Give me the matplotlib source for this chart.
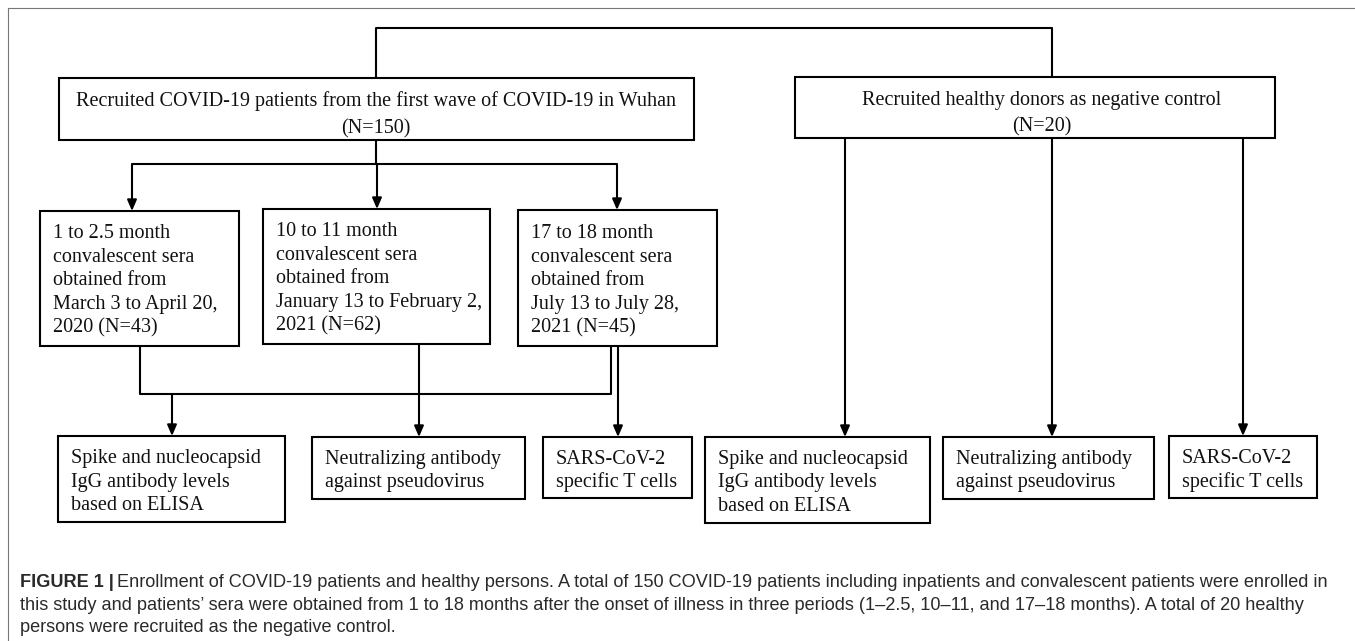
import matplotlib
matplotlib.use('Agg')
import matplotlib.pyplot as plt
from matplotlib.patches import Rectangle

# box texts
main_left_lines = ['Recruited COVID-19 patients from the first wave of COVID-19 in Wuhan', '(N=150)']
main_right_lines = ['Recruited healthy donors as negative control', '(N=20)']
period_lines = [
    ['1 to 2.5 month', 'convalescent sera', 'obtained from', 'March 3 to April 20,', '2020 (N=43)'],
    ['10 to 11 month', 'convalescent sera', 'obtained from', 'January 13 to February 2,', '2021 (N=62)'],
    ['17 to 18 month', 'convalescent sera', 'obtained from', 'July 13 to July 28,', '2021 (N=45)'],
]
assay_lines = [
    ['Spike and nucleocapsid', 'IgG antibody levels', 'based on ELISA'],
    ['Neutralizing antibody', 'against pseudovirus'],
    ['SARS-CoV-2', 'specific T cells'],
]
caption_head = 'FIGURE 1 |'
caption_lines = [
    'Enrollment of COVID-19 patients and healthy persons. A total of 150 COVID-19 patients including inpatients and convalescent patients were enrolled in',
    'this study and patients\u2019 sera were obtained from 1 to 18 months after the onset of illness in three periods (1\u20132.5, 10\u201311, and 17\u201318 months). A total of 20 healthy',
    'persons were recruited as the negative control.',
]

# layout in pixels (x0, y0, x1, y1), y going down
main_left_box = (59, 78, 694, 140)
main_right_box = (795, 77, 1275, 138)
period_boxes = [(40, 211, 239, 346), (263, 209, 490, 344), (518, 210, 717, 346)]
assay_left_boxes = [(58, 436, 285, 522), (312, 437, 525, 499), (543, 437, 692, 498)]
assay_right_boxes = [(705, 437, 930, 523), (943, 437, 1154, 499), (1169, 436, 1317, 498)]

W, H = 1355, 641
fig = plt.figure(figsize=(W / 100, H / 100), dpi=100)
ax = fig.add_axes([0, 0, 1, 1])
ax.set_xlim(0, W)
ax.set_ylim(H, 0)
ax.axis('off')

serif = ['Liberation Serif', 'DejaVu Serif']
fs = 14.5
lw = 1.5


def box(b):
    x0, y0, x1, y1 = b
    ax.add_patch(Rectangle((x0, y0), x1 - x0, y1 - y0, facecolor='white',
                           edgecolor='black', lw=lw, zorder=2))


def line(xs, ys):
    ax.plot(xs, ys, color='black', lw=lw, solid_capstyle='butt', zorder=1)


def arrow(x, y0, y1):
    ax.annotate('', xy=(x, y1), xytext=(x, y0),
                arrowprops=dict(arrowstyle='-|>,head_width=0.28,head_length=0.65',
                                color='black', lw=lw, shrinkA=0, shrinkB=0), zorder=3)


def lines_text(lines, x, baselines, ha):
    for t, yb in zip(lines, baselines):
        ax.text(x, yb, t, ha=ha, va='baseline', fontsize=fs, family=serif,
                color='#111111', zorder=4)


# outer frame (top and left only)
ax.plot([8, W], [8, 8], color='#777777', lw=0.8)
ax.plot([8, 8], [8, H], color='#777777', lw=0.8)

# top connector between the two groups
line([376, 376, 1052, 1052], [78, 28, 28, 77])

box(main_left_box)
box(main_right_box)
lines_text(main_left_lines, 376, [106, 133], 'center')
lines_text(main_right_lines, 1042, [105, 131], 'center')

# branch to the three periods
line([376, 376], [140, 164])
line([132, 617], [164, 164])
for x, b in zip([132, 377, 617], period_boxes):
    arrow(x, 164, b[1])

for lines, b, dy in zip(period_lines, period_boxes, [0, -2, 0]):
    base = [238 + dy + 23.5 * i for i in range(len(lines))]
    lines_text(lines, b[0] + 13, base, 'left')
    box(b)

# merge of periods 1 and 3 into ELISA
line([140, 140, 611, 611], [346, 394, 394, 346])
arrow(172, 394, assay_left_boxes[0][1])
arrow(419, 344, assay_left_boxes[1][1])
arrow(618, 346, assay_left_boxes[2][1])

# healthy donors to the three assays
for x, b in zip([845, 1052, 1243], assay_right_boxes):
    arrow(x, 138, b[1])

for boxes in (assay_left_boxes, assay_right_boxes):
    for lines, b in zip(assay_lines, boxes):
        base = [b[1] + 27 + 23.5 * i for i in range(len(lines))]
        lines_text(lines, b[0] + 13, base, 'left')
        box(b)

# caption
cap_fs = 13.1
cap_color = '#2a2a2a'
cap_family = ['Liberation Sans', 'DejaVu Sans']
head = ax.text(20, 587, caption_head, ha='left', va='baseline', fontsize=cap_fs,
               family=cap_family, weight='bold', color=cap_color)
fig.canvas.draw()
bb = head.get_window_extent()
x_after = ax.transData.inverted().transform((bb.x1, bb.y0))[0] + 3
for i, t in enumerate(caption_lines):
    x = x_after if i == 0 else 20
    ax.text(x, 587 + 22.5 * i, t, ha='left', va='baseline', fontsize=cap_fs,
            family=cap_family, color=cap_color)

fig.savefig('out.png', dpi=100)
